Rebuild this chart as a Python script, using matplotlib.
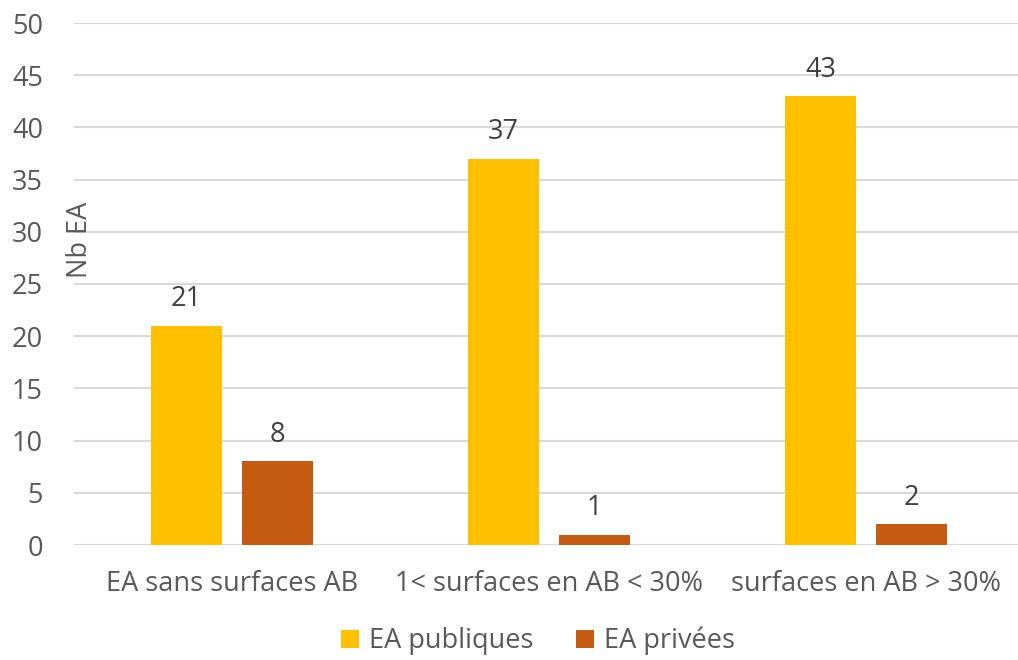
import matplotlib
matplotlib.use('Agg')
import matplotlib.pyplot as plt
import numpy as np

categories = ["EA sans surfaces AB", "1< surfaces en AB < 30%", "surfaces en AB > 30%"]
publiques = [21, 37, 43]
privees = [8, 1, 2]
series_names = ["EA publiques", "EA privées"]

plt.rcParams['font.family'] = ['Open Sans', 'DejaVu Sans']
txt = '#595959'
fs = 19.5

fig = plt.figure(figsize=(10.18, 6.6), dpi=100)
ax = fig.add_axes([73.5/1018, 115/660, 951/1018, 522/660])

x = np.arange(len(categories))
w = 0.224
off = (w + 0.063) / 2
b1 = ax.bar(x - off, publiques, w, color='#FFC000', label=series_names[0], zorder=3)
b2 = ax.bar(x + off, privees, w, color='#C55A11', label=series_names[1], zorder=3)

for bars in (b1, b2):
    for r in bars:
        ax.annotate(str(int(r.get_height())), (r.get_x() + r.get_width()/2, r.get_height()),
                    xytext=(0, 9), textcoords='offset points', ha='center', va='bottom',
                    fontsize=fs, color='#404040')

ax.set_xlim(-0.5, 2.5)
ax.set_ylim(0, 50)
ax.set_yticks(range(0, 51, 5))
ax.set_xticks(x)
ax.set_xticklabels(categories)
ax.tick_params(axis='both', length=0, labelsize=fs, colors=txt)
ax.tick_params(axis='x', pad=18)
ax.tick_params(axis='y', pad=22)
ax.grid(axis='y', color='#d9d9d9', linewidth=1.5, zorder=0)
for s in ax.spines.values():
    s.set_visible(False)

fig.text(80/1018, 1 - 240/660, "Nb EA", rotation=90, ha='center', va='center',
         fontsize=fs, color=txt)

# reference crops the legend at the bottom edge; keep it just inside
fig.legend(loc='center', bbox_to_anchor=(538/1018, 1 - 641/660), ncol=2, frameon=False,
           fontsize=fs, labelcolor=txt, handlelength=0.65, handleheight=0.65,
           handletextpad=0.35, columnspacing=1.6, borderpad=0.1)

fig.savefig('out.png', dpi=100)
